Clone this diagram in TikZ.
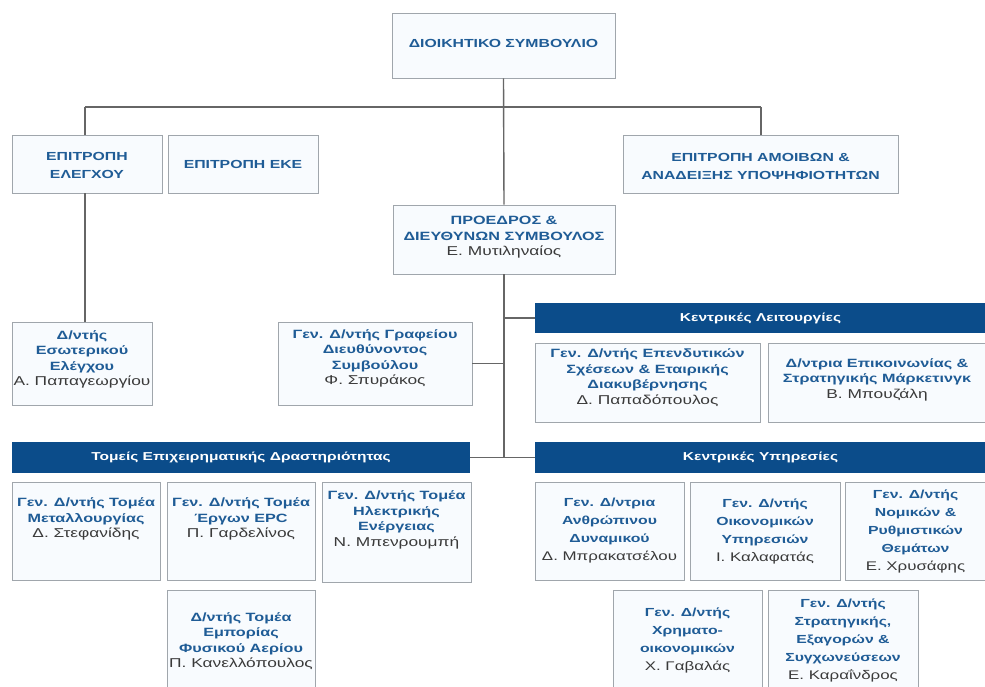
\documentclass[tikz,border=0pt]{standalone}
\usepackage{fontspec}
\setmainfont[FakeStretch=1.35]{Liberation Sans}
\usetikzlibrary{shadows}
\definecolor{tblue}{HTML}{1F5C96}
\definecolor{hblue}{HTML}{0B4C8A}
\definecolor{ngray}{HTML}{3A3A3A}
\definecolor{bfill}{HTML}{F8FBFE}
\definecolor{bline}{HTML}{A0A6AC}
\definecolor{cline}{HTML}{666666}
\newcommand\nm[1]{\textcolor{ngray}{\mdseries\scalebox{1.07}{#1}}}
\newcommand\obox[8]{%
  \node[box, minimum width={#4-#2}, minimum height={#5-#3}] (#1) at ({(#2+#4)/2},{(#3+#5)/2}) {};
  \node[#8] (#1t) at ([yshift=#6]#1.center) {#7};}
\newcommand\hdrbox[6]{%
  \node[hdr, minimum width={#4-#2}, minimum height={#5-#3}] (#1) at ({(#2+#4)/2},{(#3+#5)/2}) {#6};}
\tikzset{
  box/.style={draw=bline, fill=bfill, line width=0.9pt, inner sep=0pt,
    drop shadow={shadow xshift=1.2pt, shadow yshift=-1.2pt, fill=black!45, opacity=0.45}},
  hdr/.style={fill=hblue, inner sep=0pt, text=white, font=\fontsize{11.5}{14}\selectfont\bfseries},
  capt/.style={align=center, text=tblue, inner sep=0pt, font=\fontsize{11.7}{18}\selectfont\bfseries},
  txt/.style={align=center, text=tblue, inner sep=0pt, font=\fontsize{12}{15.5}\selectfont\bfseries},
  txtb/.style={align=center, text=tblue, inner sep=0pt, font=\fontsize{11.7}{18}\selectfont\bfseries},
  conn/.style={draw=cline, line width=1.4pt},
}
\begin{document}
\begin{tikzpicture}[x=1pt,y=-1pt]
\useasboundingbox[fill=white] (0,0) rectangle (985,686);
% top level
\obox{board}{392}{13}{615}{78}{2}{ΔΙΟΙΚΗΤΙΚΟ ΣΥΜΒΟΥΛΙΟ}{capt}
\obox{elegxou}{12}{135}{162}{193}{-1}{ΕΠΙΤΡΟΠΗ\\ΕΛΕΓΧΟΥ}{capt}
\obox{eke}{168}{135}{318}{193}{0}{ΕΠΙΤΡΟΠΗ ΕΚΕ}{capt}
\obox{amoivon}{623}{135}{898}{193}{-2}{ΕΠΙΤΡΟΠΗ ΑΜΟΙΒΩΝ \&\\ΑΝΑΔΕΙΞΗΣ ΥΠΟΨΗΦΙΟΤΗΤΩΝ}{capt}
\obox{ceo}{393}{205}{615}{274}{2}{ΠΡΟΕΔΡΟΣ \&\\ΔΙΕΥΘΥΝΩΝ ΣΥΜΒΟΥΛΟΣ\\\nm{Ε. Μυτιληναίος}}{txt}
% second level
\obox{audit}{12}{322}{152}{405}{4}{Δ/ντής\\Εσωτερικού\\Ελέγχου\\\nm{Α. Παπαγεωργίου}}{txt}
\obox{office}{278}{322}{472}{405}{5}{Γεν. Δ/ντής Γραφείου\\Διευθύνοντος\\Συμβούλου\\\nm{Φ. Σπυράκος}}{txt}
\hdrbox{lit}{535}{303}{986}{333}{Κεντρικές Λειτουργίες}
\obox{invest}{535}{343}{760}{422}{5}{Γεν. Δ/ντής Επενδυτικών\\Σχέσεων \& Εταιρικής\\Διακυβέρνησης\\\nm{Δ. Παπαδόπουλος}}{txt}
\obox{comm}{768}{343}{986}{422}{3}{Δ/ντρια Επικοινωνίας \&\\Στρατηγικής Μάρκετινγκ\\\nm{Β. Μπουζάλη}}{txt}
% business sectors
\hdrbox{tomeis}{12}{442}{470}{473}{Τομείς Επιχειρηματικής Δραστηριότητας}
\obox{metal}{12}{482}{160}{580}{12}{Γεν. Δ/ντής Τομέα\\Μεταλλουργίας\\\nm{Δ. Στεφανίδης}}{txt}
\obox{epc}{167}{482}{315}{580}{12}{Γεν. Δ/ντής Τομέα\\Έργων EPC\\\nm{Π. Γαρδελίνος}}{txt}
\obox{power}{322}{482}{471}{582}{12}{Γεν. Δ/ντής Τομέα\\Ηλεκτρικής\\Ενέργειας\\\nm{Ν. Μπενρουμπή}}{txt}
\obox{gas}{167}{590}{315}{692}{0}{Δ/ντής Τομέα\\Εμπορίας\\Φυσικού Αερίου\\\nm{Π. Κανελλόπουλος}}{txt}
% central services
\hdrbox{ypir}{535}{442}{986}{473}{Κεντρικές Υπηρεσίες}
\obox{hr}{535}{482}{684}{580}{0}{Γεν. Δ/ντρια\\Ανθρώπινου\\Δυναμικού\\\nm{Δ. Μπρακατσέλου}}{txtb}
\obox{fin}{690}{482}{840}{580}{0}{Γεν. Δ/ντής\\Οικονομικών\\Υπηρεσιών\\\nm{Ι. Καλαφατάς}}{txtb}
\obox{legal}{845}{482}{986}{580}{0}{Γεν. Δ/ντής\\Νομικών \&\\Ρυθμιστικών\\Θεμάτων\\\nm{Ε. Χρυσάφης}}{txtb}
\obox{treas}{613}{590}{762}{692}{1}{Γεν. Δ/ντής\\Χρηματο-\\οικονομικών\\\nm{Χ. Γαβαλάς}}{txtb}
\obox{strat}{768}{590}{918}{692}{1}{Γεν. Δ/ντής\\Στρατηγικής,\\Εξαγορών \&\\Συγχωνεύσεων\\\nm{Ε. Καραΐνδρος}}{txtb}
% connectors
\coordinate (jL) at (85,107);
\coordinate (jR) at (761,107);
\coordinate (jT) at (ceo.south |- tomeis.east);
\draw[conn] (board.south) -- (ceo.north);
\draw[conn] (jL) -- (jR);
\draw[conn] (jL) -- (jL |- elegxou.north);
\draw[conn] (jL |- elegxou.south) -- (jL |- audit.north);
\draw[conn] (jR) -- (jR |- amoivon.north);
\draw[conn] (ceo.south) -- (jT);
\draw[conn] (ceo.south |- lit.west) -- (lit.west);
\draw[conn] (office.east) -- (office.east -| ceo.south);
\draw[conn] (tomeis.east) -- (ypir.west);
\end{tikzpicture}
\end{document}
